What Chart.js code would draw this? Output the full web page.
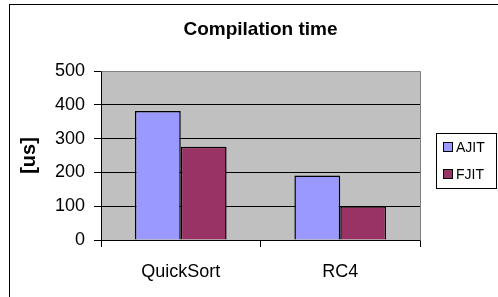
<!DOCTYPE html>
<html>
<head>
<meta charset="utf-8">
<script src="https://cdn.jsdelivr.net/npm/chart.js@4"></script>
<style>
	body { margin: 0; background: #fff; }
	#caja { width: 498px; height: 297px; }
</style>
</head>
<body>
<div id="caja"><canvas id="Grafico" width="498" height="297"></canvas></div>
<script>
	// datos del grafico
	const titulo = "Compilation time"
	const categorias = ["QuickSort", "RC4"]
	const series = ["AJIT", "FJIT"]
	const ajit = [382, 191]
	const fjit = [276, 100]
	const colores = ["#9999FF", "#993366"]

	Chart.defaults.font.family = 'Arial, "Liberation Sans", sans-serif'
	Chart.defaults.color = "#000"

	// fondo gris del area, borde exterior, titulo y leyenda
	const decorado = {
		id: "decorado",
		beforeDraw(chart) {
			const {ctx, chartArea: a} = chart
			ctx.save()
			ctx.fillStyle = "#fff"
			ctx.fillRect(0, 0, chart.width, chart.height)
			ctx.strokeStyle = "#000"
			ctx.lineWidth = 1
			ctx.strokeRect(9.5, 4.5, 600, 400)
			ctx.fillStyle = "#C0C0C0"
			ctx.fillRect(a.left, a.top, a.right - a.left, a.bottom - a.top)
			ctx.restore()
		},
		afterDraw(chart) {
			const {ctx, chartArea: a} = chart
			ctx.save()
			// borde del area (arriba y derecha)
			ctx.strokeStyle = "#808080"
			ctx.lineWidth = 1
			ctx.beginPath()
			ctx.moveTo(Math.round(a.left) + 0.5, Math.round(a.top) + 0.5)
			ctx.lineTo(Math.round(a.right) + 0.5, Math.round(a.top) + 0.5)
			ctx.lineTo(Math.round(a.right) + 0.5, Math.round(a.bottom) + 0.5)
			ctx.stroke()

			// titulo centrado sobre el area
			ctx.fillStyle = "#000"
			ctx.font = 'bold 19px Arial, "Liberation Sans", sans-serif'
			ctx.textAlign = "center"
			ctx.textBaseline = "middle"
			ctx.fillText(titulo, (a.left + a.right) / 2, 30)

			// leyenda
			ctx.textAlign = "left"
			ctx.strokeStyle = "#000"
			ctx.strokeRect(436.5, 133.5, 60, 55)
			ctx.font = '14px Arial, "Liberation Sans", sans-serif'
			chart.data.datasets.forEach((ds, i) => {
				const y = 147 + i * 27
				ctx.fillStyle = ds.backgroundColor
				ctx.fillRect(443, y - 5, 10, 10)
				ctx.strokeRect(443.5, y - 4.5, 9, 9)
				ctx.fillStyle = "#000"
				ctx.fillText(ds.label, 456, y + 1)
			})
			ctx.restore()
		}
	}

	const valores = {
		labels: categorias,
		datasets: [
			{ label: series[0], data: ajit, backgroundColor: colores[0], borderColor: "#000", borderWidth: 1.5 },
			{ label: series[1], data: fjit, backgroundColor: colores[1], borderColor: "#000", borderWidth: 1.5 }
		]
	}

	const options = {
		responsive: false,
		animation: false,
		layout: { padding: { left: 9, right: 78, top: 71, bottom: 0 } },
		datasets: { bar: { barPercentage: 1, categoryPercentage: 0.575 } },
		plugins: {
			legend: { display: false },
			tooltip: { enabled: false },
			title: { display: false }
		},
		scales: {
			x: {
				grid: { offset: true, drawOnChartArea: false, drawTicks: true, tickLength: 7, color: "#000", tickColor: "#000" },
				border: { color: "#000" },
				ticks: { font: { size: 18 }, color: "#000", padding: 14 },
				afterFit(scale) { scale.height = 57 }
			},
			y: {
				min: 0,
				max: 500,
				ticks: { stepSize: 100, font: { size: 18 }, color: "#000", padding: 9 },
				grid: {
					color: c => c.tick && c.tick.value === 500 ? "#808080" : "#000",
					tickColor: "#000",
					tickLength: 7
				},
				border: { color: "#000" },
				title: {
					display: true,
					text: "[us]",
					color: "#000",
					font: { size: 20, weight: "bold" },
					padding: { top: 8, bottom: 0 }
				},
				afterFit(scale) { scale.width = 92 }
			}
		}
	}

	const grafico = new Chart(document.querySelector("#Grafico"), {
		type: "bar",
		data: valores,
		options: options,
		plugins: [decorado]
	})
</script>
</body>
</html>
